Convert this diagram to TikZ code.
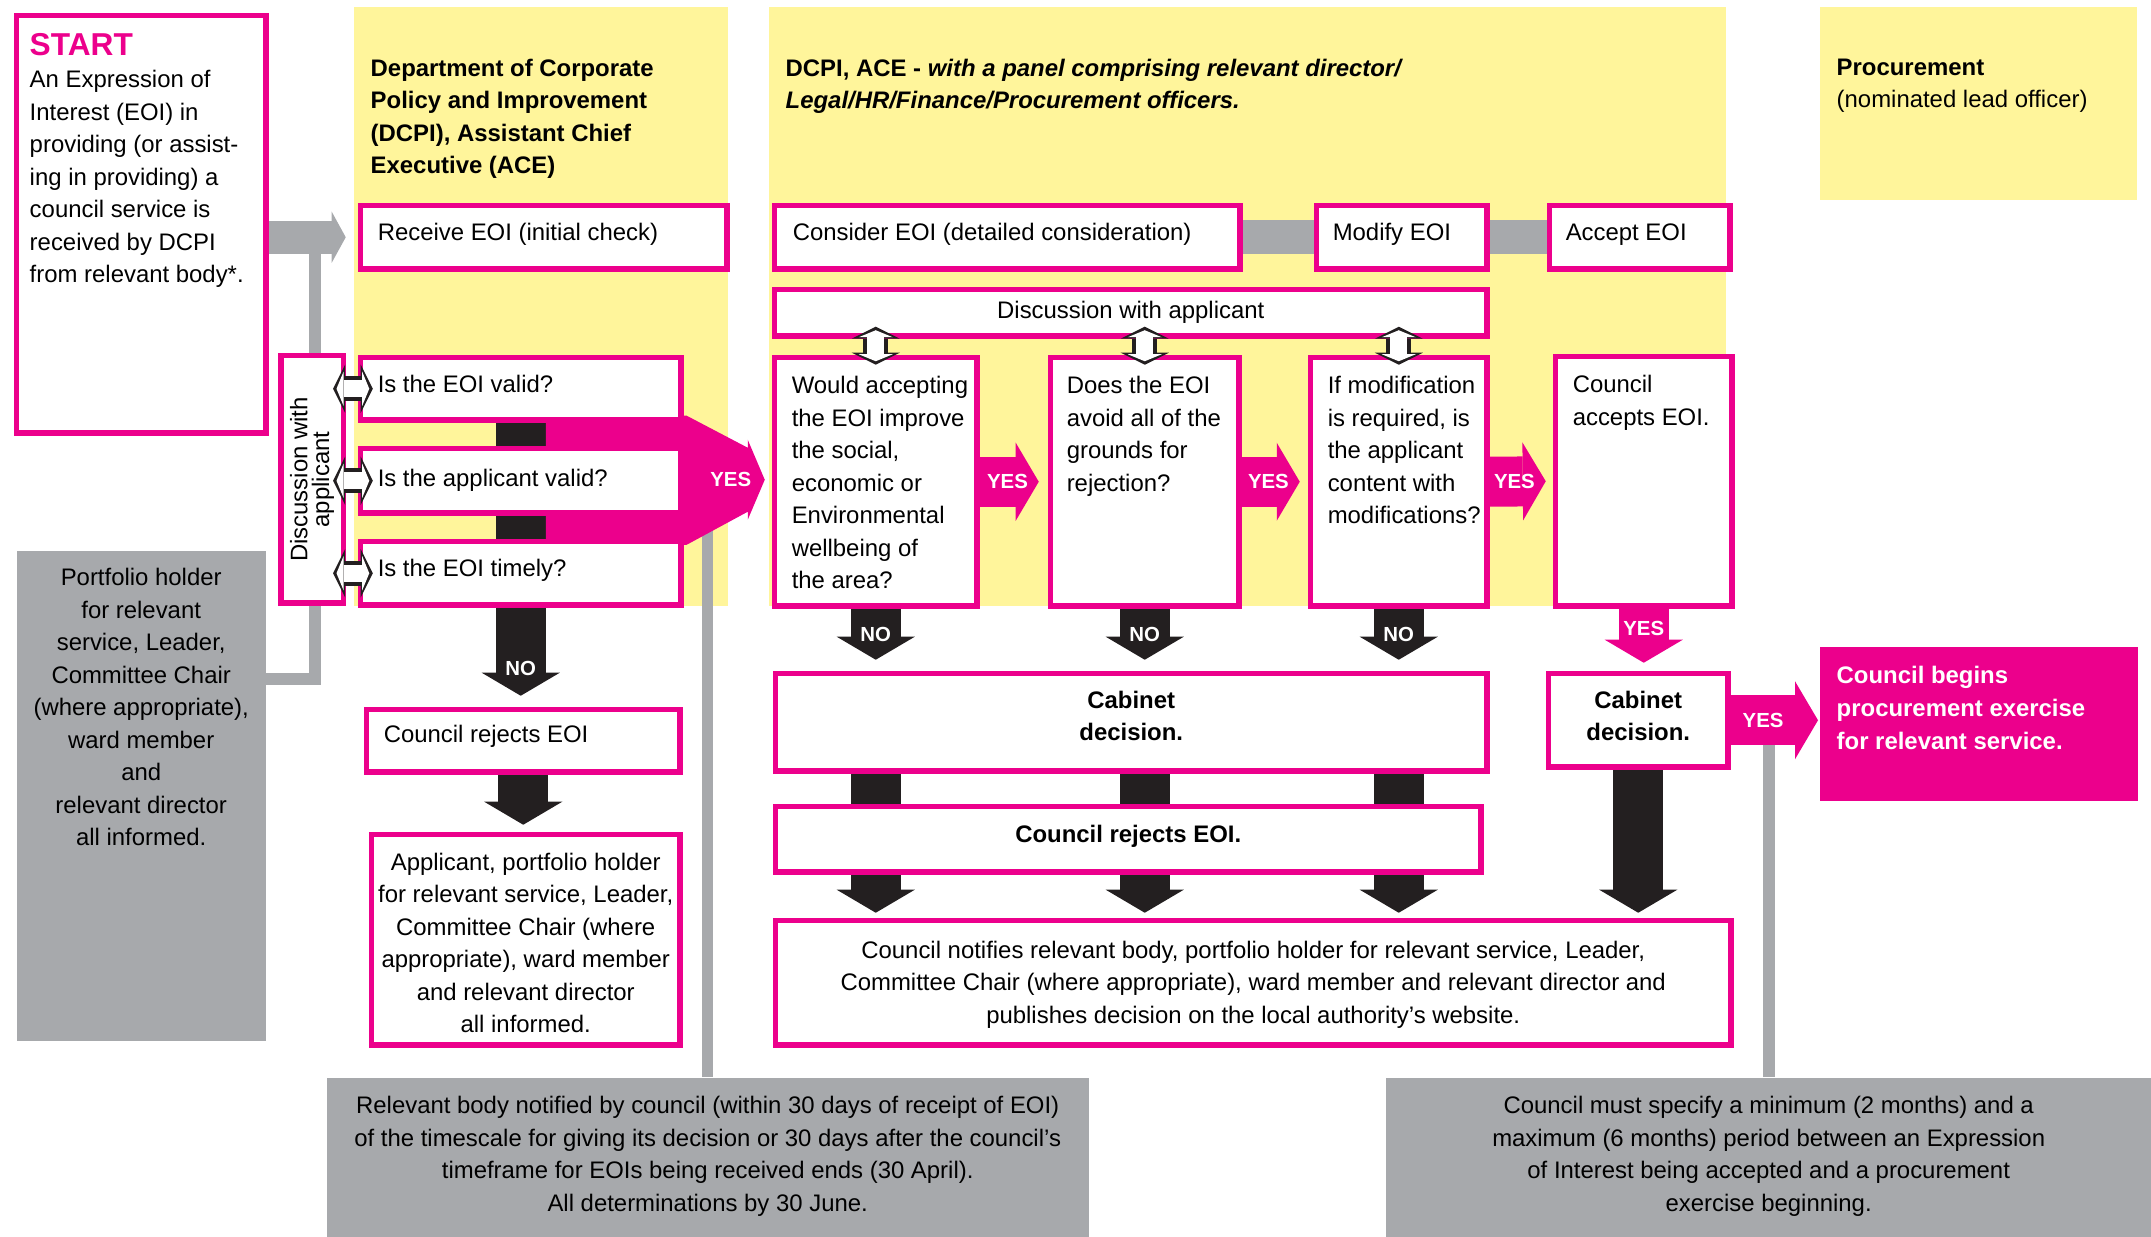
\documentclass[tikz,border=0pt]{standalone}
\usepackage{fontspec}
\setmainfont{Liberation Sans}
\usetikzlibrary{arrows.meta,calc}

% one pixel of the drawing grid
\newdimen\pxu
\pxu=0.01cm

\definecolor{pinkc}{HTML}{EC008C}
\definecolor{yelc}{HTML}{FFF59B}
\definecolor{grayc}{HTML}{A7A9AC}
\definecolor{inkc}{HTML}{231F20}

\pgfdeclarelayer{lanes}
\pgfdeclarelayer{links}
\pgfsetlayers{lanes,links,main}

% text blocks inside the boxes
\newcommand\leftlines[4][t]{\parbox[c][#3\pxu][#1]{#2\pxu}{\begin{tabular}[t]{@{}l@{}}#4\end{tabular}}}
\newcommand\midlines[4][t]{\parbox[c][#3\pxu][#1]{#2\pxu}{\centering\begin{tabular}[t]{@{}c@{}}#4\end{tabular}}}

\tikzset{
  box/.style={draw=pinkc, line width=5.5\pxu, fill=white, inner sep=0pt},
  corner/.style={anchor=north west, xshift=2.75\pxu, yshift=-2.75\pxu},
  bw/.style={minimum width=#1\pxu-5.5\pxu},
  bh/.style={minimum height=#1\pxu-5.5\pxu},
  graybox/.style={fill=grayc, inner sep=0pt, anchor=north west},
  hdr/.style={anchor=north west, align=left, inner sep=0pt},
  tag/.style={text=white, inner sep=0pt, font=\fontsize{5.8}{6}\selectfont\bfseries},
  noflow/.style={draw=inkc, line width=50\pxu, -{Triangle[length=0.23cm, width=0.78cm, line width=0pt]}},
  yesflow/.style={draw=pinkc, line width=50\pxu, -{Triangle[length=0.23cm, width=0.78cm, line width=0pt]}},
  grayflow/.style={draw=grayc, line width=33\pxu, -{Triangle[length=0.14cm, width=0.51cm, line width=0pt]}},
  grayline/.style={draw=grayc, line width=12\pxu},
  grayband/.style={draw=grayc, line width=34\pxu},
  talkout/.style={draw=inkc, line width=25\pxu, {Triangle[length=0.12cm, width=0.48cm, line width=0pt]}-{Triangle[length=0.12cm, width=0.48cm, line width=0pt]}},
  talkin/.style={draw=white, line width=17\pxu, shorten <=3.5\pxu, shorten >=3.5\pxu, {Triangle[length=0.07cm, width=0.34cm, line width=0pt]}-{Triangle[length=0.07cm, width=0.34cm, line width=0pt]}},
}

\begin{document}
\fontsize{6.8}{9.25}\selectfont
\begin{tikzpicture}[x=0.01cm, y=-0.01cm]
\useasboundingbox (0,0) rectangle (2151,1237);

% Yellow lanes
\begin{pgfonlayer}{lanes}
  \fill[yelc] (354,7) rectangle (728,606);
  \fill[yelc] (769,7) rectangle (1726,606);
  \fill[yelc] (1820,7) rectangle (2137,200);
\end{pgfonlayer}

% Lane headers
\node[hdr, font=\bfseries] (hdcpi) at (370,58) {Department of Corporate\\Policy and Improvement\\(DCPI), Assistant Chief\\Executive (ACE)};
\node[hdr, font=\bfseries] (hpanel) at (785,58) {DCPI, ACE - \textit{with a panel comprising relevant director/}\\\textit{Legal/HR/Finance/Procurement officers.}};
\node[hdr] (hproc) at (1836,58) {\textbf{Procurement}\\(nominated lead officer)};

% Start and the stage row
\node[box, corner, bw=255, bh=423] (start) at (11,10)
  {\leftlines{223}{384}{{\fontsize{9}{11}\selectfont\bfseries\color{pinkc}START}\\An Expression of\\Interest (EOI) in\\providing (or assist-\\ing in providing) a\\council service is\\received by DCPI\\from relevant body*.}};
\node[box, corner, bw=372, bh=69] (recv) at (355,200) {\leftlines{332}{39}{Receive EOI (initial check)}};
\node[box, corner, bw=471, bh=69] (cons) at (769,200) {\leftlines{429}{39}{Consider EOI (detailed consideration)}};
\node[box, corner, bw=176, bh=69] (modi) at (1311,200) {\leftlines{138}{39}{Modify EOI}};
\node[box, corner, bw=186, bh=69] (acpt) at (1544,200) {\leftlines{148}{39}{Accept EOI}};

% Initial checks
\node[box, rotate=90, minimum width=247.5\pxu, minimum height=62.5\pxu, align=center, font=\fontsize{6.8}{6.2}\selectfont] (disc) at (312,479.5) {Discussion with\\applicant};
\node[box, corner, bw=326, bh=68] (q1) at (355,352) {\leftlines{286}{38}{Is the EOI valid?}};
\node[box, corner, bw=326, bh=70] (q2) at (355,443) {\leftlines{286}{35}{Is the applicant valid?}};
\node[box, corner, bw=326, bh=69] (q3) at (355,536) {\leftlines{286}{39}{Is the EOI timely?}};
\node[box, corner, bw=319, bh=68] (rejL) at (361,704) {\leftlines{279}{42}{Council rejects EOI}};
\node[box, corner, bw=314, bh=216] (appl) at (366,829)
  {\midlines{305}{185}{Applicant, portfolio holder\\for relevant service, Leader,\\Committee Chair (where\\appropriate), ward member\\and relevant director\\all informed.}};
\node[graybox, minimum width=249\pxu, minimum height=490\pxu] (port) at (16,550)
  {\midlines{240}{466}{Portfolio holder\\for relevant\\service, Leader,\\Committee Chair\\(where appropriate),\\ward member\\and\\relevant director\\all informed.}};

% Detailed consideration
\node[box, corner, bw=718, bh=52] (disc2) at (769,284) {Discussion with applicant};
\node[box, corner, bw=208, bh=254] (c1) at (769,352)
  {\leftlines{168}{222}{Would accepting\\the EOI improve\\the social,\\economic or\\Environmental\\wellbeing of\\the area?}};
\node[box, corner, bw=194, bh=254] (c2) at (1045,352)
  {\leftlines{156}{222}{Does the EOI\\avoid all of the\\grounds for\\rejection?}};
\node[box, corner, bw=182, bh=254] (c3) at (1305,352)
  {\leftlines{142}{222}{If modification\\is required, is\\the applicant\\content with\\modifications?}};
\node[box, corner, bw=182, bh=255] (c4) at (1550,351)
  {\leftlines{142}{223}{Council\\accepts EOI.}};
\node[box, corner, bw=717, bh=103, font=\bfseries] (cabL) at (770,668) {\midlines{700}{74}{Cabinet\\decision.}};
\node[box, corner, bw=185, bh=99, font=\bfseries] (cabR) at (1543,668) {\midlines{175}{70}{Cabinet\\decision.}};
\node[box, corner, bw=711, bh=71, font=\bfseries] (rejM) at (770,801) {\midlines{700}{39}{Council rejects EOI.}};
\node[box, corner, bw=961, bh=130] (notify) at (770,915)
  {\midlines{940}{95}{Council notifies relevant body, portfolio holder for relevant service, Leader,\\Committee Chair (where appropriate), ward member and relevant director and\\publishes decision on the local authority’s website.}};
\node[anchor=north west, fill=pinkc, inner sep=0pt, text=white, font=\bfseries, minimum width=318\pxu, minimum height=154\pxu] (begin) at (1819,646)
  {\leftlines{284}{125}{Council begins\\procurement exercise\\for relevant service.}};

% Notes
\node[graybox, minimum width=762\pxu, minimum height=160\pxu] (note1) at (326,1077)
  {\midlines{750}{134}{Relevant body notified by council (within 30 days of receipt of EOI)\\of the timescale for giving its decision or 30 days after the council’s\\timeframe for EOIs being received ends (30 April).\\All determinations by 30 June.}};
\node[graybox, minimum width=766\pxu, minimum height=160\pxu] (note2) at (1385,1077)
  {\midlines{750}{134}{Council must specify a minimum (2 months) and a\\maximum (6 months) period between an Expression\\of Interest being accepted and a procurement\\exercise beginning.}};

% Connectors behind the boxes
\begin{pgfonlayer}{links}
  \coordinate (bend) at (315,679);
  \draw[grayline] (port.east |- bend) -- (bend) -- (bend |- recv.west);
  \draw[grayflow] (start.east |- recv.west) -- ($(recv.west)+(-12,0)$);
  \draw[grayband] (cons.east) -- (modi.west);
  \draw[grayband] (modi.east) -- (acpt.west);
  \draw[grayline, line width=11\pxu] (note1.north) -- (note1.north |- q2.east);
  \draw[grayline] (note2.north) -- (note2.north |- cabR.east);

  % NO through the three checks
  \draw[noflow] (q1.south) -- ($(q1.south |- rejL.north)+(0,-11)$) node[tag, pos=0.9] {NO};
  % YES out of the three checks
  \fill[pinkc] ($(q1.south)+(25,-10)$) -- ($(q1.south east)+(3,-7)$) -- ($(q2.east)+(64,-33)$)
    -- ($(q2.east)+(64,-41)$) -- ($(c1.west)+(-7,-2)$) -- ($(q2.east)+(64,39)$)
    -- ($(q2.east)+(64,31)$) -- ($(q3.north east)+(3,6)$) -- ($(q3.north)+(25,9)$) -- cycle;
  \node[tag] (yesq) at ($(q2.east)+(47,-1)$) {YES};
  \draw[noflow] (rejL.south) -- ($(rejL.south |- appl.north)+(0,-7)$);

  \foreach \qq in {c1,c2,c3} {
    \draw[noflow] (\qq.south) -- ($(\qq.south |- cabL.north)+(0,-11)$) node[tag, pos=0.5] {NO};
    \draw[noflow] (\qq.south |- cabL.south) -- ($(\qq.south |- notify.north)+(0,-5)$);
  }
  \draw[yesflow] (c1.east) -- ($(c2.west)+(-9,0)$) node[tag, pos=0.47] {YES};
  \draw[yesflow] (c2.east) -- ($(c3.west)+(-8,0)$) node[tag, pos=0.46] {YES};
  \draw[yesflow] (c3.east) -- ($(c4.west)+(-7,0)$) node[tag, pos=0.44] {YES};
  \draw[yesflow] (c4.south) -- ($(c4.south |- cabR.north)+(0,-8)$) node[tag, pos=0.37] {YES};
  \draw[noflow] (cabR.south) -- ($(cabR.south |- notify.north)+(0,-5)$);
  \draw[yesflow] (cabR.east) -- ($(cabR.east -| begin.west)+(-1,0)$) node[tag, pos=0.37] {YES};
\end{pgfonlayer}

% Discussion arrows
\foreach \qq in {q1,q2,q3} {
  \draw[talkout] ($(disc.south |- \qq.west)+(-13,0)$) -- ($(\qq.west)+(15,0)$);
  \draw[talkin] ($(disc.south |- \qq.west)+(-13,0)$) -- ($(\qq.west)+(15,0)$);
}
\foreach \qq in {c1,c2,c3} {
  \draw[talkout] ($(\qq.north |- disc2.south)+(0,-12)$) -- ($(\qq.north)+(0,10)$);
  \draw[talkin] ($(\qq.north |- disc2.south)+(0,-12)$) -- ($(\qq.north)+(0,10)$);
}

\end{tikzpicture}
\end{document}
